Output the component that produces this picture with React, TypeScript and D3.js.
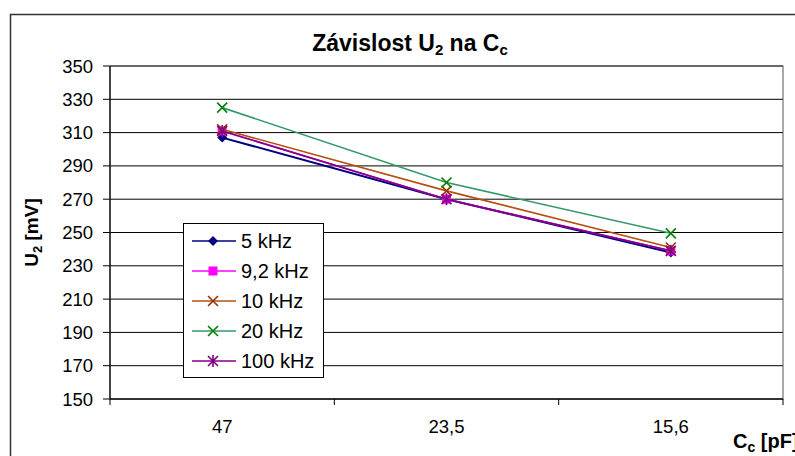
import React from "react";
import * as d3 from "d3";

const categories = ["47", "23,5", "15,6"];
const yTicks = [150, 170, 190, 210, 230, 250, 270, 290, 310, 330, 350];
const seriesNames = ["5 kHz", "9,2 kHz", "10 kHz", "20 kHz", "100 kHz"];
const s5k = [307, 270, 238];
const s92k = [311, 270, 239];
const s10k = [312, 275, 241];
const s20k = [325, 280, 249.5];
const s100k = [311, 270, 239];
const seriesValues = [s5k, s92k, s10k, s20k, s100k];
const lineColors = ["#000080", "#FF00FF", "#B5500F", "#339966", "#800080"];
const markerColors = ["#000080", "#FF00FF", "#993300", "#008000", "#800080"];
const markerTypes = ["diamond", "square", "x", "x", "star"];

function Marker({ type, x, y, color }: { type: string; x: number; y: number; color: string }) {
  if (type === "diamond") {
    const r = 5;
    return <path d={`M${x},${y - r}L${x + r},${y}L${x},${y + r}L${x - r},${y}Z`} fill={color} />;
  }
  if (type === "square") {
    return <rect x={x - 4.5} y={y - 4.5} width={9} height={9} fill={color} />;
  }
  if (type === "x") {
    const r = 5;
    return (
      <path
        d={`M${x - r},${y - r}L${x + r},${y + r}M${x - r},${y + r}L${x + r},${y - r}`}
        stroke={color}
        strokeWidth={1.6}
      />
    );
  }
  const r = 5;
  return (
    <path
      d={`M${x - r},${y - r}L${x + r},${y + r}M${x - r},${y + r}L${x + r},${y - r}M${x},${y - r - 1}L${x},${y + r + 1}`}
      stroke={color}
      strokeWidth={1.6}
    />
  );
}

export default function App() {
  const W = 795, H = 456;
  const left = 110, right = 783, top = 66, bottom = 399;
  const x = d3.scaleBand<string>().domain(categories).range([left, right]);
  const y = d3.scaleLinear().domain([150, 350]).range([bottom, top]);
  const line = d3
    .line<number>()
    .x((_, i) => (x(categories[i]) as number) + x.bandwidth() / 2)
    .y((d) => y(d));
  const font = "'Liberation Sans', Arial, sans-serif";
  const boundaries = categories.map((c) => x(c) as number).concat([right]);

  const legX = 183, legY = 223, legW = 140, legH = 154;
  const rowY = (i: number) => 241 + i * 30;

  return (
    <svg
      width={W}
      height={H}
      style={{ position: "absolute", left: 0, top: 0, background: "#fff" }}
      fontFamily={font}
    >
      <rect x={10.5} y={14.5} width={800} height={460} fill="#fff" stroke="#333" strokeWidth={1.5} />
      <text x={410} y={51} textAnchor="middle" fontSize={23} fontWeight="bold">
        Závislost U<tspan fontSize={15} dy={4}>2</tspan>
        <tspan dy={-4}> na C</tspan>
        <tspan fontSize={15} dy={4}>c</tspan>
      </text>

      {yTicks.map((t) => (
        <g key={t}>
          <line x1={left - 7} x2={right} y1={y(t)} y2={y(t)} stroke="#000" strokeWidth={1} />
          <text x={93} y={y(t) + 6.5} textAnchor="end" fontSize={18.5}>
            {t}
          </text>
        </g>
      ))}
      <rect x={left} y={top} width={right - left} height={bottom - top} fill="none" stroke="#555" strokeWidth={1} />
      <line x1={left} x2={left} y1={top} y2={bottom} stroke="#000" strokeWidth={1.2} />
      <line x1={left} x2={right} y1={bottom} y2={bottom} stroke="#000" strokeWidth={1.2} />
      {boundaries.map((b, i) => (
        <line key={i} x1={b} x2={b} y1={bottom} y2={bottom + 6} stroke="#000" />
      ))}
      {categories.map((c) => (
        <text key={c} x={(x(c) as number) + x.bandwidth() / 2} y={433} textAnchor="middle" fontSize={18.5}>
          {c}
        </text>
      ))}

      <text
        transform={`translate(38,${(top + bottom) / 2}) rotate(-90)`}
        textAnchor="middle"
        fontSize={19}
        fontWeight="bold"
      >
        U<tspan fontSize={13} dy={4}>2</tspan>
        <tspan dy={-4}> [mV]</tspan>
      </text>
      <text x={733} y={448} fontSize={20} fontWeight="bold">
        C<tspan fontSize={14} dy={4}>c</tspan>
        <tspan dy={-4}> [pF]</tspan>
      </text>

      {seriesValues.map((vals, si) => (
        <g key={si}>
          <path d={line(vals) || ""} fill="none" stroke={lineColors[si]} strokeWidth={si === 0 ? 2 : 1.6} />
          {vals.map((v, i) => (
            <Marker
              key={i}
              type={markerTypes[si]}
              x={(x(categories[i]) as number) + x.bandwidth() / 2}
              y={y(v)}
              color={markerColors[si]}
            />
          ))}
        </g>
      ))}

      <rect x={legX + 0.5} y={legY + 0.5} width={legW} height={legH} fill="#fff" stroke="#000" strokeWidth={1} />
      {seriesNames.map((n, i) => (
        <g key={n}>
          <line x1={192} x2={236} y1={rowY(i)} y2={rowY(i)} stroke={lineColors[i]} strokeWidth={1.6} />
          <Marker type={markerTypes[i]} x={213} y={rowY(i)} color={markerColors[i]} />
          <text x={241} y={rowY(i) + 7} fontSize={20}>
            {n}
          </text>
        </g>
      ))}
    </svg>
  );
}
